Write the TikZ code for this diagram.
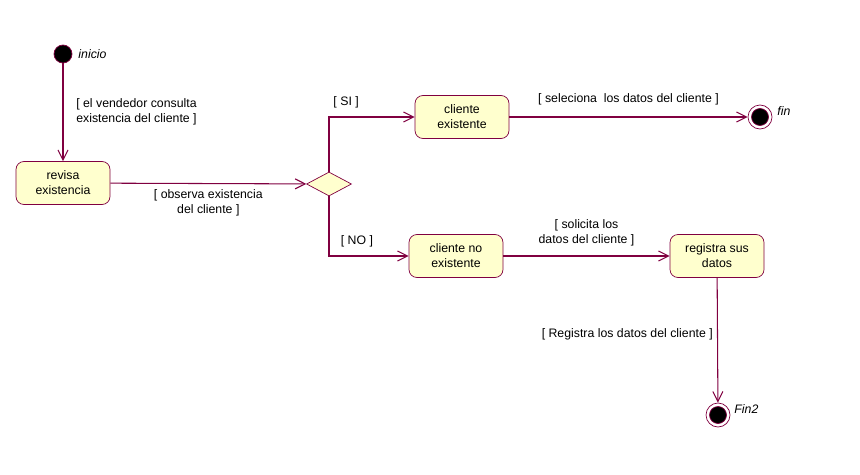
\documentclass[tikz,border=0pt]{standalone}
\usepackage{fontspec}
\setmainfont{Liberation Sans}
\usetikzlibrary{arrows.meta,shapes.geometric,positioning}
\definecolor{umlred}{RGB}{128,0,64}
\definecolor{umlfill}{RGB}{255,255,206}
\tikzset{
  act/.style={draw=umlred,fill=umlfill,rounded corners=1.6mm,minimum width=18.8mm,minimum height=8.6mm,align=center,inner sep=0pt,font=\fontsize{7}{8.5}\selectfont},
  initst/.style={circle,draw=umlred,fill=black,minimum size=3.6mm,inner sep=0pt},
  finalst/.style={circle,draw=umlred,fill=white,minimum size=4.8mm,inner sep=0pt,
    path picture={\filldraw[draw=umlred,fill=black] (path picture bounding box.center) circle (1.7mm);}},
  choice/.style={diamond,draw=umlred,fill=umlfill,minimum width=9mm,minimum height=4.8mm,inner sep=0pt},
  lbl/.style={inner sep=1pt,align=center,font=\fontsize{7}{8.5}\selectfont},
  nm/.style={inner sep=1pt,font=\fontsize{7}{8.5}\selectfont\itshape}
}
\begin{document}
\begin{tikzpicture}[x=0.2mm,y=-0.2mm]
\useasboundingbox (0,0) rectangle (860,474);
\node[initst,label={[nm,label distance=0.8mm]right:inicio}] (I) at (63,54) {};
\node[act] (A1) at (63,183) {revisa\\existencia};
\node[choice] (D) at (329,184) {};
\node[act] (B1) at (462,117) {cliente\\existente};
\node[finalst,label={[nm,label distance=0.6mm,yshift=1.2mm]right:fin}] (F1) at (760,117) {};
\node[act] (B2) at (456,256) {cliente no\\existente};
\node[act] (B3) at (717,256) {registra sus\\datos};
\node[finalst,label={[nm,label distance=0.4mm,yshift=1.2mm]right:Fin2}] (F2) at (718,415) {};
\path[draw=umlred,line width=0.6pt,-{Straight Barb[length=2mm,width=2mm]}]
(I) edge node [lbl,midway,right=2.2mm] {[ el vendedor consulta\\ existencia del cliente ]} (A1)
(A1) edge node [lbl,midway,below=0.8mm] {[ observa existencia\\ del cliente ]} (D)
(B1) edge node [lbl,midway,above=2mm] {[ seleciona\ \ los datos del cliente ]} (F1)
(B2) edge node [lbl,midway,above=1.6mm] {[ solicita los\\ datos del cliente ]} (B3)
(B3) edge node [lbl,pos=0.45,left=0.5mm] {[ Registra los datos del cliente ]} (F2);
\draw[draw=umlred,line width=0.6pt,-{Straight Barb[length=2mm,width=2mm]}]
(D.north) |- node [lbl,pos=0.6,above=1.4mm] {[ SI ]} (B1.west);
\draw[draw=umlred,line width=0.6pt,-{Straight Barb[length=2mm,width=2mm]}]
(D.south) |- node [lbl,pos=0.675,above=1.4mm] {[ NO ]} (B2.west);
\end{tikzpicture}
\end{document}
